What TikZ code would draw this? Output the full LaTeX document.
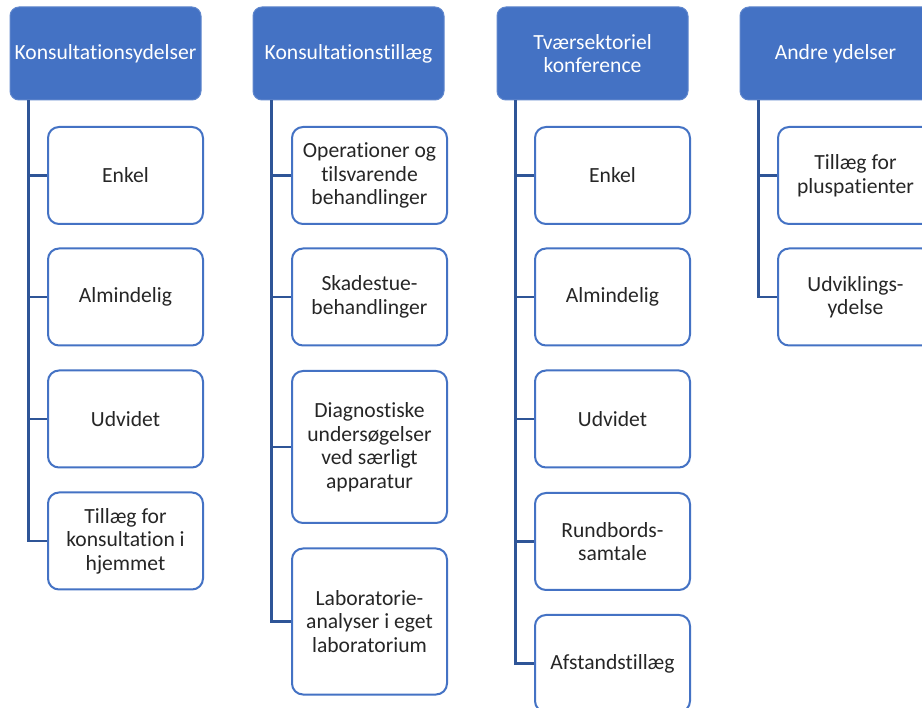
\documentclass[tikz,border=0pt]{standalone}
\usepackage{fontspec}
\setmainfont{Carlito}[Ligatures=NoCommon]
\definecolor{hdrblue}{HTML}{4472C4}
\definecolor{linkblue}{HTML}{2F5597}
\definecolor{txt}{HTML}{262626}
\begin{document}
\begin{tikzpicture}[x=1pt,y=-1pt,
  hdr/.style={rectangle,rounded corners=9pt,fill=hdrblue,draw=hdrblue!85!white,line width=1pt,
    minimum width=191pt,minimum height=93pt,text=white,align=center,inner sep=2pt,
    font=\fontsize{21.6}{23.5}\selectfont},
  child/.style={rectangle,rounded corners=11pt,fill=white,draw=hdrblue,line width=2pt,
    minimum width=155pt,minimum height=97pt,text=txt,align=center,inner sep=2pt,
    font=\fontsize{21.6}{23.5}\selectfont},
  link/.style={draw=linkblue,line width=2.5pt}]
\useasboundingbox (0,0) rectangle (922,708);
\clip (0,0) rectangle (922,708);
\fill[white] (0,0) rectangle (922,708);
% column 1
\node[hdr] (h1) at (105.5,53.5) {Konsultationsydelser};
\node[child] (a1) at (125.5,175.5) {Enkel};
\node[child] (a2) at (125.5,297) {Almindelig};
\node[child] (a3) at (125.5,419) {Udvidet};
\node[child] (a4) at (125.5,541) {Tillæg for\\konsultation i\\hjemmet};
% column 2
\node[hdr] (h2) at (348.5,53.5) {Konsultationstillæg};
\node[child] (b1) at (369.5,175.5) {Operationer og\\tilsvarende\\behandlinger};
\node[child] (b2) at (369.5,297) {Skadestue-\\behandlinger};
\node[child,minimum height=152pt] (b3) at (369.5,447) {Diagnostiske\\undersøgelser\\ved særligt\\apparatur};
\node[child,minimum height=146pt] (b4) at (369.5,621.5) {Laboratorie-\\analyser i eget\\laboratorium};
% column 3
\node[hdr] (h3) at (592.5,53.5) {Tværsektoriel\\konference};
\node[child] (c1) at (612.5,175.5) {Enkel};
\node[child] (c2) at (612.5,297) {Almindelig};
\node[child] (c3) at (612.5,419) {Udvidet};
\node[child] (c4) at (612.5,541.5) {Rundbords-\\samtale};
\node[child] (c5) at (612.5,663.5) {Afstandstillæg};
% column 4
\node[hdr] (h4) at (835.5,53.5) {Andre ydelser};
\node[child] (d1) at (855.5,175.5) {Tillæg for\\pluspatienter};
\node[child] (d2) at (855.5,297) {Udviklings-\\ydelse};
% trunk tops
\coordinate (t1) at ([xshift=19pt]h1.south west);
\coordinate (t2) at ([xshift=19pt]h2.south west);
\coordinate (t3) at ([xshift=19pt]h3.south west);
\coordinate (t4) at ([xshift=19pt]h4.south west);
% connectors
\foreach \c in {a1,a2,a3,a4} \draw[link] (t1) |- (\c.west);
\foreach \c in {b1,b2,b3,b4} \draw[link] (t2) |- (\c.west);
\foreach \c in {c1,c2,c3,c4,c5} \draw[link] (t3) |- (\c.west);
\foreach \c in {d1,d2} \draw[link] (t4) |- (\c.west);
\end{tikzpicture}
\end{document}
